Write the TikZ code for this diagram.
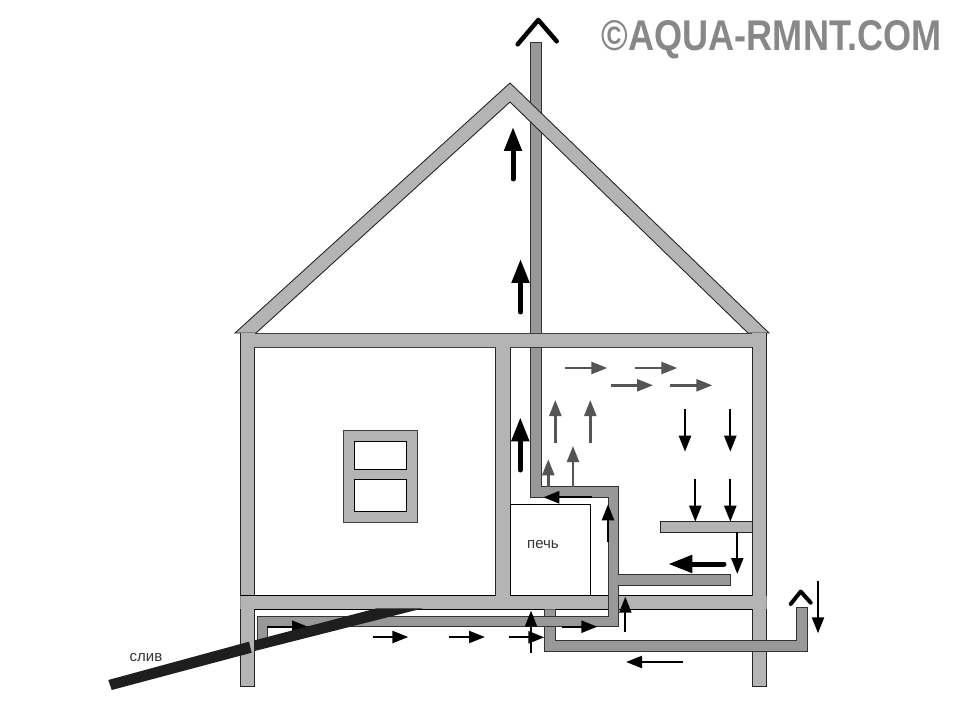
\documentclass[tikz,border=0pt]{standalone}
\usepackage{fontspec}
\setmainfont{Liberation Sans}
\usetikzlibrary{arrows.meta}
\definecolor{wallc}{HTML}{B4B4B4}
\definecolor{pipec}{HTML}{989898}
\definecolor{grayarrow}{HTML}{555555}
\definecolor{drainc}{HTML}{1E1E1E}
\definecolor{wmc}{HTML}{888888}
\tikzset{
  wall/.style={fill=wallc,draw=black!85,line width=0.9pt},
  pipe/.style={fill=pipec,draw=black!80,line width=0.9pt},
  pane/.style={fill=white,draw=black,line width=0.9pt},
  drain/.style={fill=drainc,draw=none},
  flowblack/.style={draw=black,line width=2.3pt,-{Triangle[length=16pt,width=12pt]}},
  flowgray/.style={draw=grayarrow,line width=2.4pt,-{Triangle[length=16pt,width=12pt]}},
  flowthick/.style={draw=black,line width=5pt,line cap=round,-{Triangle[length=24pt,width=17pt]}},
  chevron/.style={draw=black,line cap=round,line join=round},
  label/.style={font=\fontsize{15pt}{16pt}\selectfont,text=black!80,inner sep=0pt}
}
\begin{document}
\begin{tikzpicture}[x=1pt,y=-1pt]
\useasboundingbox (0,0) rectangle (953,703);
\fill[white] (0,0) rectangle (953,703);
% chimney (behind roof and ceiling)
\filldraw[pipe] (530.7,42) rectangle (541.7,340);
% roof
\filldraw[wall] (235,333) -- (510,83) -- (769,333) -- (748,333) -- (510,102) -- (256,333) -- cycle;
% walls
\filldraw[wall] (240.7,333) rectangle (254.4,686);
\filldraw[wall] (752,333) rectangle (766,596);
\filldraw[wall] (752.4,596) rectangle (766.7,686);
\filldraw[wall] (495.8,340) rectangle (510,600);
% stove
\filldraw[pane] (510,504.3) rectangle (590.3,595.7);
% ceiling and floor
\fill[wallc] (240.7,333) rectangle (766,347);
\draw[black!75,line width=0.9pt] (255,333) -- (752,333) (254.4,347) -- (495.8,347) (510,347) -- (752,347);
\draw[black!85,line width=0.9pt] (766,333) -- (766,347) (240.7,333) -- (240.7,347);
\fill[wallc] (240.5,595.5) rectangle (766.7,609.3);
\draw[black,line width=0.9pt] (240.5,595.5) -- (495.8,595.5) (510,595.7) -- (752,595.7) (254.4,609.3) -- (752.4,609.3);
\draw[black!45,line width=0.5pt] (766.7,595.5) -- (766.7,609.3) (240.5,595.5) -- (240.5,609.3);
% shelf
\filldraw[wall] (752,521.7) -- (660.3,521.7) -- (660.3,532.3) -- (752,532.3);
% window
\filldraw[wall,draw=black!75] (343.3,430.7) rectangle (417.7,522);
\filldraw[pane] (354,441.3) rectangle (406.7,469.3);
\filldraw[pane] (354,479.7) rectangle (406.7,511.3);
% lower pipe
\filldraw[pipe] (544.7,609.3) -- (544.7,651) -- (807.3,651) -- (807.3,607.3) -- (796.7,607.3) -- (796.7,640.7) -- (555.7,640.7) -- (555.7,609.3);
% upper pipe
\filldraw[pipe] (530.7,347) -- (530.7,497.3) -- (608.3,497.3) -- (608.3,616.7) -- (257.3,616.7) -- (257.3,645) -- (267.5,645) -- (267.5,626.7) -- (618.3,626.7) -- (618.3,585) -- (730.7,585) -- (730.7,574.3) -- (618.3,574.3) -- (618.3,486.7) -- (541.7,486.7) -- (541.7,347) -- cycle;
% flow arrow in pipe, partly under the drain
\draw[flowblack] (267,626.7) -- (308,626.7);
% drain
\fill[drain] (108.3,680) -- (249,641.7) -- (251.7,652.7) -- (111.7,690) -- cycle;
\fill[drain] (254,640.5) -- (376.7,608.3) -- (423,608.3) -- (254.7,651) -- cycle;
% arrows, black
\draw[flowblack] (372.7,637) -- (408.3,637);
\draw[flowblack] (449.3,637) -- (485,637);
\draw[flowblack] (509,637.3) -- (544.3,637.3);
\draw[flowblack] (531,652.7) -- (531,610.7);
\draw[flowblack] (561.7,626.7) -- (597.3,626.7);
\draw[flowblack] (625.3,631.7) -- (625.3,596.7);
\draw[flowblack] (682.7,662) -- (626,662);
\draw[flowblack] (818,580.7) -- (818,633.3);
\draw[flowblack] (737.3,532.3) -- (737.3,574);
\draw[flowblack] (608,542.3) -- (608,504.3);
\draw[flowblack] (591.7,497.3) -- (543.3,497.3);
\draw[flowblack] (685,409) -- (685,451.7);
\draw[flowblack] (730.3,409) -- (730.3,451.7);
\draw[flowblack] (695.3,479) -- (695.3,521.7);
\draw[flowblack] (730.3,479) -- (730.3,521.7);
% arrows, gray
\draw[flowgray] (565,368) -- (607.3,368);
\draw[flowgray] (635,368) -- (677.3,368);
\draw[flowgray] (610.7,385.3) -- (653,385.3);
\draw[flowgray] (670,385.3) -- (712.3,385.3);
\draw[flowgray] (555.3,442.7) -- (555.3,400);
\draw[flowgray] (590.3,442.7) -- (590.3,400);
\draw[flowgray] (548.3,486.7) -- (548.3,459.3);
\draw[flowgray] (573,486.7) -- (573,446);
% arrows, thick
\draw[flowthick] (520.3,470) -- (520.3,417.3);
\draw[flowthick] (513,179) -- (513,127);
\draw[flowthick] (520.5,312) -- (520.5,259);
\draw[flowthick] (724,564) -- (668.3,564);
% chevrons
\draw[chevron,line width=4.5pt] (517.7,44.3) -- (538.3,20) -- (556.7,41.3);
\draw[chevron,line width=4pt] (790.7,604) -- (800.7,591.5) -- (810.7,602.7);
% labels
\node[label] (stove) at (543,545) {печь};
\node[label] (drainlabel) at (146,658) {слив};
\node[inner sep=0pt,text=wmc,anchor=center] (mark) at (771.7,40) {\scalebox{0.84}[1]{\fontsize{43pt}{45pt}\selectfont\bfseries ©AQUA-RMNT.COM}};
\end{tikzpicture}
\end{document}
